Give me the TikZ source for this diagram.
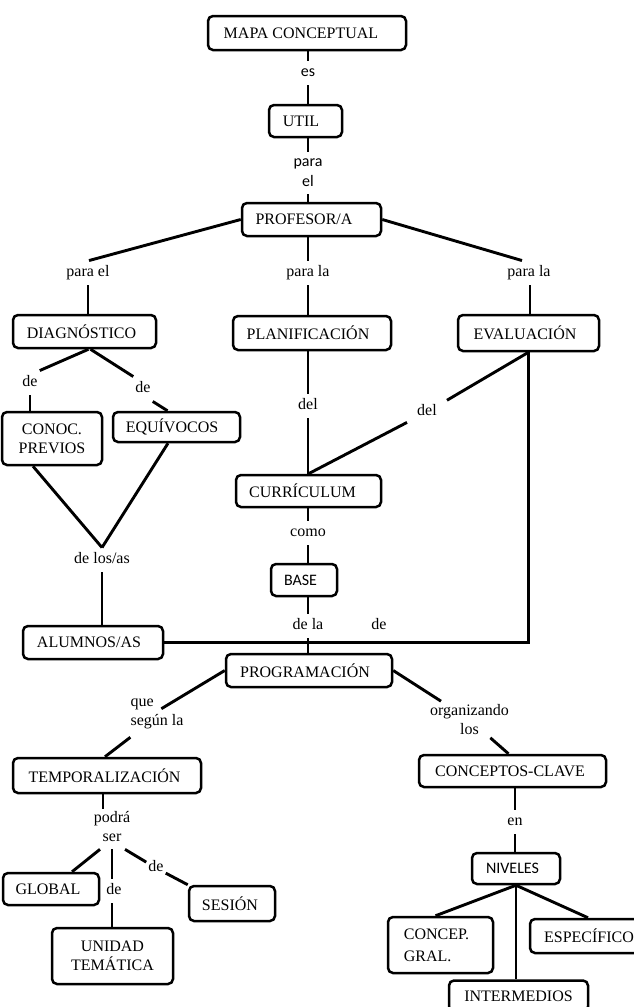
\documentclass[tikz,border=0pt]{standalone}
\usepackage{fontspec}
\setmainfont{Liberation Serif}
\newfontfamily\calfont{Carlito}
\newcommand\mysize{\fontsize{16}{19}\selectfont}
\begin{document}
\begin{tikzpicture}[x=1pt,y=-1pt,
 box/.style={draw, line width=2.5pt, rounded corners=5pt, inner sep=0pt, font=\mysize},
 lbl/.style={font=\mysize, inner xsep=2pt, inner ysep=5pt, text height=11pt, text depth=3.5pt},
 lbltwo/.style={font=\mysize, inner xsep=2pt, inner ysep=3pt},
 conn/.style={line width=2.9pt},
]
\useasboundingbox (0,0) rectangle (633,1007);

% concept boxes
\node[box, minimum width=198pt, minimum height=34pt] (mapa) at (307,33) {MAPA CONCEPTUAL\kern12pt};
\node[box, minimum width=73pt, minimum height=32pt] (util) at (305.5,121) {UTIL\kern9pt};
\node[box, minimum width=139pt, minimum height=33pt] (prof) at (311.5,219.5) {PROFESOR/A\kern15pt};
\node[box, minimum width=143pt, minimum height=33pt] (diag) at (84.5,331.5) {DIAGNÓSTICO\kern6pt};
\node[box, minimum width=158pt, minimum height=34pt] (plan) at (312,333) {PLANIFICACIÓN\kern8pt};
\node[box, minimum width=141pt, minimum height=36pt] (eval) at (528.5,333) {EVALUACIÓN\kern7pt};
\node[box, minimum width=100pt, minimum height=53pt, align=center] (conoc) at (52,438.5) {CONOC.\\PREVIOS};
\node[box, minimum width=127pt, minimum height=30pt] (equiv) at (176.5,427) {EQUÍVOCOS\kern9pt};
\node[box, minimum width=145pt, minimum height=32pt] (curr) at (308.5,491) {CURRÍCULUM\kern12pt};
\node[box, minimum width=66pt, minimum height=32pt, font=\mysize\calfont] (base) at (304,580) {BASE\kern7pt};
\node[box, minimum width=140pt, minimum height=33pt] (alum) at (93,642.5) {ALUMNOS/AS\kern8pt};
\node[box, minimum width=166pt, minimum height=33pt] (prog) at (309,670.5) {PROGRAMACIÓN\kern8pt};
\node[box, minimum width=188pt, minimum height=35pt] (temp) at (107,775.5) {TEMPORALIZACIÓN\kern5pt};
\node[box, minimum width=187pt, minimum height=32pt] (conc) at (512.5,771) {CONCEPTOS-CLAVE\kern5pt};
\node[box, minimum width=96pt, minimum height=32pt] (global) at (51,889) {GLOBAL\kern6pt};
\node[box, minimum width=86pt, minimum height=35pt] (sesion) at (232,903.5) {SESIÓN\kern4pt};
\node[box, minimum width=121pt, minimum height=56pt, align=center] (unidad) at (112.5,956) {UNIDAD\\TEMÁTICA};
\node[box, minimum width=88pt, minimum height=31pt, font=\mysize\calfont] (niveles) at (516,868.5) {NIVELES\kern7pt};
\node[box, minimum width=105pt, minimum height=56pt, align=left, font=\fontsize{16}{22}\selectfont] (concep) at (440.5,945) {CONCEP.\kern8pt\\GRAL.};
\node[box, minimum width=130pt, minimum height=34pt] (espec) at (595,936) {ESPECÍFICO\kern12pt};
\node[box, minimum width=139pt, minimum height=31pt] (inter) at (518.5,996) {INTERMEDIOS};

% linking words
\node[lbl, font=\mysize\calfont] (les) at (308,73) {es};
\node[lbltwo, align=center, inner ysep=7pt, font=\fontsize{16}{20}\selectfont\calfont] (lpara) at (308,173) {para\\el};
\node[lbl] (lpe) at (88,273) {para el};
\node[lbl] (lpl) at (308,273) {para la};
\node[lbl] (lpr) at (529,273) {para la};
\node[lbl] (ld1) at (30,383) {de};
\node[lbl] (ld2) at (143,389) {de};
\node[lbl] (ldel1) at (308,406) {del};
\node[lbl, inner xsep=10pt] (ldel2) at (427,412) {del};
\node[lbl] (ldlos) at (102,560) {de los/as};
\node[lbl] (lcomo) at (308,533) {como};
\node[lbl] (ldela) at (308,626) {de la};
\node[lbl] (ldeh) at (379,626) {de};
\node[lbltwo, align=left] (lque) at (157,714) {que\\según la};
\node[lbltwo, align=center] (lorg) at (469.5,719.5) {organizando\\los};
\node[lbltwo, align=center] (lpod) at (112,827) {podrá\\ser};
\node[lbl] (lde3) at (114,891) {de};
\node[lbl] (lde4) at (156,868) {de};
\node[lbl] (len) at (515,822) {en};

% connectors
\draw[conn] (les |- mapa.south) -- (les.north);
\draw[conn] (les.south) -- (les |- util.north);
\draw[conn] (lpara |- util.south) -- (lpara.north);
\draw[conn] (lpara.south) -- (lpara |- prof.north);

\draw[conn] (prof.west) -- ([xshift=1pt]lpe.north);
\draw[conn] (lpe.south) -- (lpe.south |- diag.north);
\draw[conn] (lpl |- prof.south) -- (lpl.north);
\draw[conn] (lpl.south) -- (lpl |- plan.north);
\draw[conn] (prof.east) -- ([xshift=-7pt]lpr.north);
\draw[conn] ([xshift=1pt]lpr.south) -- ([xshift=1pt]lpr.south |- eval.north);

\draw[conn] ([xshift=4pt]diag.south) -- (ld1.north east);
\draw[conn] (ld1.south) -- (ld1.south |- conoc.north);
\draw[conn] ([xshift=6pt]diag.south) -- (ld2.north west);
\draw[conn] (ld2.south east) -- ([xshift=-9pt]equiv.north);

\draw[conn] ([xshift=-19pt]conoc.south) -- (ldlos.north);
\draw[conn] ([xshift=-8.5pt]equiv.south) -- (ldlos.north);
\draw[conn] (ldlos.south) -- (ldlos.south |- alum.north);

\draw[conn] (ldel1 |- plan.south) -- (ldel1.north);
\draw[conn] (ldel1.south) -- (ldel1 |- curr.north);
\draw[conn] (eval.south) -- (ldel2);
\draw[conn] (ldel2) -- (curr.north);
\draw[conn] (eval.south) |- (alum.east);

\draw[conn] (lcomo |- curr.south) -- (lcomo.north);
\draw[conn] (lcomo.south) -- (lcomo |- base.north);
\draw[conn] (ldela |- base.south) -- (ldela.north);
\draw[conn] (ldela.south) -- (ldela |- prog.north);

\draw[conn] (prog.west) -- ([xshift=33pt,yshift=-13pt]lque.north west);
\draw[conn] ([xshift=2pt,yshift=-5pt]lque.south west) -- ([xshift=-2pt]temp.north);
\draw[conn] (prog.east) -- (lorg);
\draw[conn] (lorg) -- ([xshift=-4pt]conc.north);

\draw[conn] ([xshift=-4pt]temp.south) -- ([xshift=-9pt]lpod.north);
\draw[conn] ([xshift=-12pt,yshift=-4pt]lpod.south) -- ([xshift=21pt]global.north);
\draw[conn] ([yshift=-4pt]lpod.south) -- (lpod.south |- lde3.north);
\draw[conn] (lpod.south |- lde3.south) -- (lpod.south |- unidad.north);
\draw[conn] ([xshift=13pt,yshift=-4pt]lpod.south) -- (lde4);
\draw[conn] (lde4) -- (sesion.north west);

\draw[conn] (len |- conc.south) -- (len.north);
\draw[conn] (len.south) -- (len |- niveles.north);
\draw[conn] (niveles.south) -- ([xshift=-5pt]concep.north);
\draw[conn] (niveles.south) -- ([xshift=-7pt]espec.north);
\draw[conn] (niveles.south) -- (niveles.south |- inter.north);
\end{tikzpicture}
\end{document}
